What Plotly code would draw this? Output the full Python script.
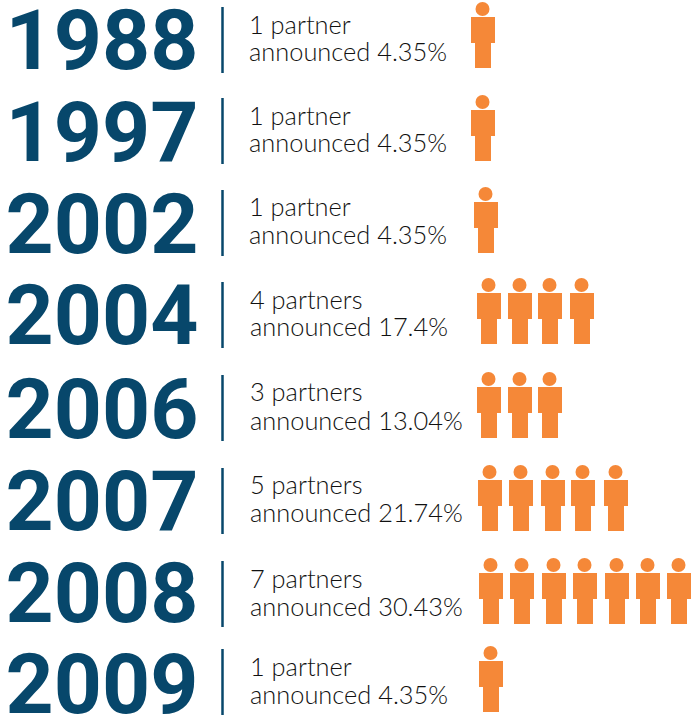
import plotly.graph_objects as go

# values
years = ["1988", "1997", "2002", "2004", "2006", "2007", "2008", "2009"]
partners = [1, 1, 1, 4, 3, 5, 7, 1]
shares = ["4.35%", "4.35%", "4.35%", "17.4%", "13.04%", "21.74%", "30.43%", "4.35%"]

# pixel layout of each row
year_y = [48, 140, 232, 323, 417, 509, 601, 692]
rule_top = [7, 98, 190, 282, 375, 468, 561, 649]
line1_y = [28, 119, 210, 303, 395, 488, 582, 670]
line2_y = [55, 146, 238, 330, 424, 516, 610, 698]
text_x = [249, 249, 249, 250, 250, 250, 250, 250]
head_y = [9, 102, 194, 285, 379, 472, 565, 653]
person_left = [
    [471],
    [471],
    [474],
    [477, 508, 538, 570],
    [477, 508, 538],
    [478, 509, 541, 571, 604],
    [479, 510, 542, 573, 605, 636, 667],
    [479],
]

NAVY = "#07476b"
ORANGE = "#f58838"
BODY_FONT = "Lato"

fig = go.Figure()
shapes = []
head_xs, head_ys = [], []

for i, year in enumerate(years):
    shapes.append(dict(type="line", x0=222.5, x1=222.5, y0=rule_top[i], y1=rule_top[i] + 66,
                       line=dict(color=NAVY, width=2.5)))
    for left in person_left[i][:partners[i]]:
        head_xs.append(left + 11.5)
        head_ys.append(head_y[i])
        # torso, then legs
        shapes.append(dict(type="rect", x0=left, x1=left + 24, y0=head_y[i] + 8, y1=head_y[i] + 34,
                           fillcolor=ORANGE, line_width=0))
        shapes.append(dict(type="rect", x0=left + 4, x1=left + 20, y0=head_y[i] + 34, y1=head_y[i] + 59,
                           fillcolor=ORANGE, line_width=0))

fig.add_trace(go.Scatter(x=head_xs, y=head_ys, mode="markers",
                         marker=dict(color=ORANGE, size=14, line_width=0)))

fig.add_trace(go.Scatter(x=[102] * len(years), y=year_y, mode="text", text=years,
                         textposition="middle center",
                         textfont=dict(family="Roboto", size=84, color=NAVY, weight=700)))

line1 = [f"{n} partner" + ("s" if n > 1 else "") for n in partners]
line2 = [f"announced {s}" for s in shares]
for ys, labels in ((line1_y, line1), (line2_y, line2)):
    fig.add_trace(go.Scatter(x=text_x, y=ys, mode="text", text=labels,
                             textposition="middle right",
                             textfont=dict(family=BODY_FONT, size=25.4, color="#111111", weight=300)))

fig.update_layout(
    width=691, height=719,
    margin=dict(l=0, r=0, t=0, b=0),
    paper_bgcolor="white", plot_bgcolor="white",
    showlegend=False,
    shapes=shapes,
    xaxis=dict(range=[0, 691], visible=False, fixedrange=True),
    yaxis=dict(range=[719, 0], visible=False, fixedrange=True),
)

# the page's default body margin would push the chart off the window
fig.write_html("out.html", config={"displayModeBar": False},
               post_script="document.body.style.margin='0';document.body.style.overflow='hidden';")
